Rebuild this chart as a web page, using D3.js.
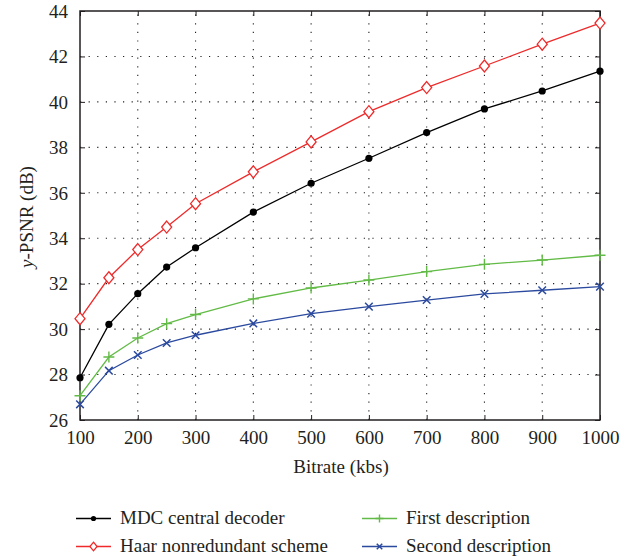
<!DOCTYPE html>
<html><head><meta charset="utf-8">
<script src="https://cdn.jsdelivr.net/npm/d3@7"></script>
<style>
body{margin:0;background:#fff;}
text{font-family:"Liberation Serif",serif;fill:#231f20;}
</style></head>
<body><svg id="c" width="631" height="558"></svg>
<script>
const bitrates = [100,150,200,250,300,400,500,600,700,800,900,1000];
const mdcCentral = [27.86,30.21,31.56,32.73,33.58,35.15,36.42,37.52,38.65,39.69,40.48,41.35];
const haarNonredundant = [30.46,32.26,33.50,34.49,35.52,36.92,38.24,39.57,40.63,41.58,42.54,43.47];
const firstDescription = [27.07,28.77,29.61,30.24,30.64,31.33,31.81,32.16,32.53,32.85,33.04,33.25];
const secondDescription = [26.69,28.17,28.86,29.39,29.73,30.25,30.68,30.99,31.28,31.55,31.71,31.87];
const xTicks = [100,200,300,400,500,600,700,800,900,1000];
const yTicks = [26,28,30,32,34,36,38,40,42,44];
const seriesNames = ["MDC central decoder","Haar nonredundant scheme","First description","Second description"];

const series = [
  {name:seriesNames[0], values:mdcCentral, color:"#000000", marker:"circle"},
  {name:seriesNames[1], values:haarNonredundant, color:"#ee2a2a", marker:"diamond"},
  {name:seriesNames[2], values:firstDescription, color:"#62bb46", marker:"plus"},
  {name:seriesNames[3], values:secondDescription, color:"#2b4a9f", marker:"cross"}
];

const svg = d3.select("#c");
const L=80, R=600, T=11, B=420;
const x = d3.scaleLinear().domain([100,1000]).range([L,R]);
const y = d3.scaleLinear().domain([26,44]).range([B,T]);
const axisCol="#231f20";
const fs=19;
const ff="Liberation Serif";

// grid
const g = svg.append("g");
g.selectAll(".gx").data(xTicks.slice(1,-1)).enter().append("line")
  .attr("x1",d=>x(d)).attr("x2",d=>x(d)).attr("y1",B).attr("y2",T)
  .attr("stroke",axisCol).attr("stroke-width",1.1).attr("stroke-dasharray","1.2,7.4");
g.selectAll(".gy").data(yTicks.slice(1,-1)).enter().append("line")
  .attr("x1",L).attr("x2",R).attr("y1",d=>y(d)).attr("y2",d=>y(d))
  .attr("stroke",axisCol).attr("stroke-width",1.1).attr("stroke-dasharray","1.2,7.4");

// axes
const xa = svg.append("g").attr("transform",`translate(0,${B})`)
  .call(d3.axisBottom(x).tickValues(xTicks).tickSize(-5).tickFormat(d3.format("d")));
const xt = svg.append("g").attr("transform",`translate(0,${T})`)
  .call(d3.axisTop(x).tickValues(xTicks).tickSize(-5).tickFormat(""));
const ya = svg.append("g").attr("transform",`translate(${L},0)`)
  .call(d3.axisLeft(y).tickValues(yTicks).tickSize(-5));
const yr = svg.append("g").attr("transform",`translate(${R},0)`)
  .call(d3.axisRight(y).tickValues(yTicks).tickSize(-5).tickFormat(""));
[xa,xt,ya,yr].forEach(a=>{
  a.attr("font-family",ff).attr("font-size",fs);
  a.select(".domain").remove();
  a.selectAll("line").attr("stroke",axisCol).attr("stroke-width",1);
  a.selectAll("text").attr("fill",axisCol);
});
xa.selectAll("text").attr("y",23.5).attr("dy",0);
ya.selectAll("text").attr("x",-12).attr("dy","0.33em");
svg.append("rect").attr("x",L).attr("y",T).attr("width",R-L).attr("height",B-T)
  .attr("fill","none").attr("stroke",axisCol).attr("stroke-width",1.5);

// lines
const line = d3.line().x((d,i)=>x(bitrates[i])).y(d=>y(d));
function drawMarker(sel, type, cx, cy, color, s){
  if(type==="circle"){
    sel.append("circle").attr("cx",cx).attr("cy",cy).attr("r",3.6*s).attr("fill",color);
  } else if(type==="diamond"){
    const w=5*s,h=6*s;
    sel.append("path").attr("d",`M${cx},${cy-h}L${cx+w},${cy}L${cx},${cy+h}L${cx-w},${cy}Z`)
      .attr("fill","#fff").attr("stroke",color).attr("stroke-width",1.3);
  } else if(type==="plus"){
    const a=5.5*s;
    sel.append("path").attr("d",`M${cx-a},${cy}H${cx+a}M${cx},${cy-a}V${cy+a}`)
      .attr("stroke",color).attr("stroke-width",1.4).attr("fill","none");
  } else {
    const a=3.8*s;
    sel.append("path").attr("d",`M${cx-a},${cy-a}L${cx+a},${cy+a}M${cx-a},${cy+a}L${cx+a},${cy-a}`)
      .attr("stroke",color).attr("stroke-width",1.5).attr("fill","none");
  }
}
series.forEach(s=>{
  svg.append("path").attr("d",line(s.values)).attr("fill","none").attr("stroke",s.color).attr("stroke-width",1.3);
  const mg = svg.append("g");
  s.values.forEach((v,i)=>drawMarker(mg,s.marker,x(bitrates[i]),y(v),s.color,1));
});

// axis labels
svg.append("text").attr("x",341).attr("y",473).attr("text-anchor","middle").attr("font-size",fs).text("Bitrate (kbs)");
const yl = svg.append("text").attr("transform","translate(33,217) rotate(-90)").attr("text-anchor","middle").attr("font-size",fs);
yl.append("tspan").attr("font-style","italic").text("y");
yl.append("tspan").text("-PSNR (dB)");

// legend
const legPos = [[76,518.5],[76,546.5],[362,518.5],[362,546.5]];
series.forEach((s,i)=>{
  const [lx,ly]=legPos[i];
  const lg = svg.append("g");
  lg.append("line").attr("x1",lx).attr("x2",lx+35).attr("y1",ly).attr("y2",ly).attr("stroke",s.color).attr("stroke-width",1.3);
  drawMarker(lg,s.marker,lx+17.5,ly,s.color,0.72);
  lg.append("text").attr("x",lx+44).attr("y",ly+5.5).attr("font-size",fs).text(s.name);
});
</script></body></html>
